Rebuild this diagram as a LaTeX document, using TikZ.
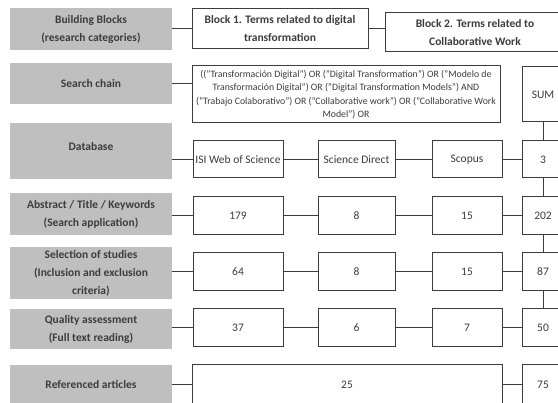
\documentclass[tikz,border=0pt]{standalone}
\usepackage{fontspec}
\setmainfont{Carlito}
\definecolor{boxgray}{RGB}{191,191,191}
\definecolor{inkgray}{RGB}{60,60,60}
\tikzset{
  stage/.style={fill=boxgray, text=inkgray, font=\fontsize{11.5}{18}\selectfont\bfseries, align=center, minimum width=162pt, inner sep=0pt},
  cell/.style={draw=inkgray, fill=white, line width=1, text=inkgray, font=\fontsize{11.5}{18}\selectfont, align=center, inner sep=0pt, minimum height=38pt},
  headcell/.style={cell, font=\fontsize{11.5}{18}\selectfont\bfseries},
  link/.style={draw=inkgray, line width=1}
}
\begin{document}
\begin{tikzpicture}[x=1pt,y=-1pt]
        \useasboundingbox (0,0) rectangle (558,403);
        \clip (0,0) rectangle (558,403);
        % nodes %
        \node[stage, minimum height=42pt] (blocks) at (91,29) {Building Blocks\\(research categories)};
        \node[stage, minimum height=41pt] (chainlabel) at (91,83.5) {Search chain};
        \node[stage, minimum height=56pt, text depth=10pt] (database) at (91,151) {Database};
        \node[stage, minimum height=42pt] (abstract) at (91,214) {Abstract / Title / Keywords\\(Search application)};
        \node[stage, minimum height=52pt] (selection) at (91,273) {Selection of studies\\(Inclusion and exclusion\\criteria)};
        \node[stage, minimum height=40pt] (quality) at (91,329) {Quality assessment\\(Full text reading)};
        \node[stage, minimum height=40pt] (referenced) at (91,385) {Referenced articles};
        \node[headcell, minimum width=176pt, minimum height=40pt] (blockone) at (280,29) {Block 1. Terms related to digital\\transformation};
        \node[headcell, minimum width=180pt, minimum height=39pt] (blocktwo) at (475,32.5) {Block 2. Terms related to\\Collaborative Work};
        \node[cell, minimum width=308pt, minimum height=57pt, font=\fontsize{9.8}{13.5}\selectfont] (chain) at (346,94.5) {(("Transformación Digital") OR ("Digital Transformation") OR ("Modelo de\\Transformación Digital") OR ("Digital Transformation Models") AND\\("Trabajo Colaborativo") OR ("Collaborative work") OR ("Collaborative Work\\Model") OR};
        \node[cell, minimum width=42pt, minimum height=55pt] (sum) at (543,94.5) {SUM};
        % database row
        \node[cell, minimum width=90pt, minimum height=37pt] (isi) at (238,159.5) {ISI Web of Science};
        \node[cell, minimum width=77pt, minimum height=37pt] (sd) at (356.5,159.5) {Science Direct};
        \node[cell, minimum width=70pt, minimum height=37pt] (scopus) at (467,159.5) {Scopus};
        \node[cell, minimum width=42pt, minimum height=37pt] (dbsum) at (543,159.5) {3};
        % abstract row
        \node[cell, minimum width=90pt] (abs1) at (238,216) {179};
        \node[cell, minimum width=77pt] (abs2) at (356.5,216) {8};
        \node[cell, minimum width=70pt] (abs3) at (467,216) {15};
        \node[cell, minimum width=42pt] (abssum) at (543,216) {202};
        % selection row
        \node[cell, minimum width=90pt] (sel1) at (238,272) {64};
        \node[cell, minimum width=77pt] (sel2) at (356.5,272) {8};
        \node[cell, minimum width=70pt] (sel3) at (467,272) {15};
        \node[cell, minimum width=42pt] (selsum) at (543,272) {87};
        % quality row
        \node[cell, minimum width=90pt] (qual1) at (238,328) {37};
        \node[cell, minimum width=77pt] (qual2) at (356.5,328) {6};
        \node[cell, minimum width=70pt] (qual3) at (467,328) {7};
        \node[cell, minimum width=42pt] (qualsum) at (543,328) {50};
        % referenced row
        \node[cell, minimum width=310pt, minimum height=40pt] (refall) at (347,385) {25};
        \node[cell, minimum width=42pt, minimum height=40pt] (refsum) at (543,385) {75};
        % edges %
        \draw[link] (blocks.east) -- (blockone.west);
        \draw[link] (blockone.east) -- (blockone.east -| blocktwo.west);
        \draw[link] (chainlabel.east) -- (chainlabel.east -| chain.west);
        \draw[link] (isi.west -| database.east) -- (isi.west);
        \draw[link] (isi) -- (sd);
        \draw[link] (sd) -- (scopus);
        \draw[link] (scopus) -- (dbsum);
        \draw[link] (abs1.west -| abstract.east) -- (abs1.west);
        \draw[link] (abs1) -- (abs2);
        \draw[link] (abs2) -- (abs3);
        \draw[link] (abs3) -- (abssum);
        \draw[link] (sel1.west -| selection.east) -- (sel1.west);
        \draw[link] (sel1) -- (sel2);
        \draw[link] (sel2) -- (sel3);
        \draw[link] (sel3) -- (selsum);
        \draw[link] (qual1.west -| quality.east) -- (qual1.west);
        \draw[link] (qual1) -- (qual2);
        \draw[link] (qual2) -- (qual3);
        \draw[link] (qual3) -- (qualsum);
        \draw[link] (refall.west -| referenced.east) -- (refall.west);
        \draw[link] (refall) -- (refsum);
        % sum column
        \draw[link] (sum) -- (dbsum);
        \draw[link] (dbsum) -- (abssum);
        \draw[link] (abssum) -- (selsum);
        \draw[link] (selsum) -- (qualsum);
\end{tikzpicture}
\end{document}
